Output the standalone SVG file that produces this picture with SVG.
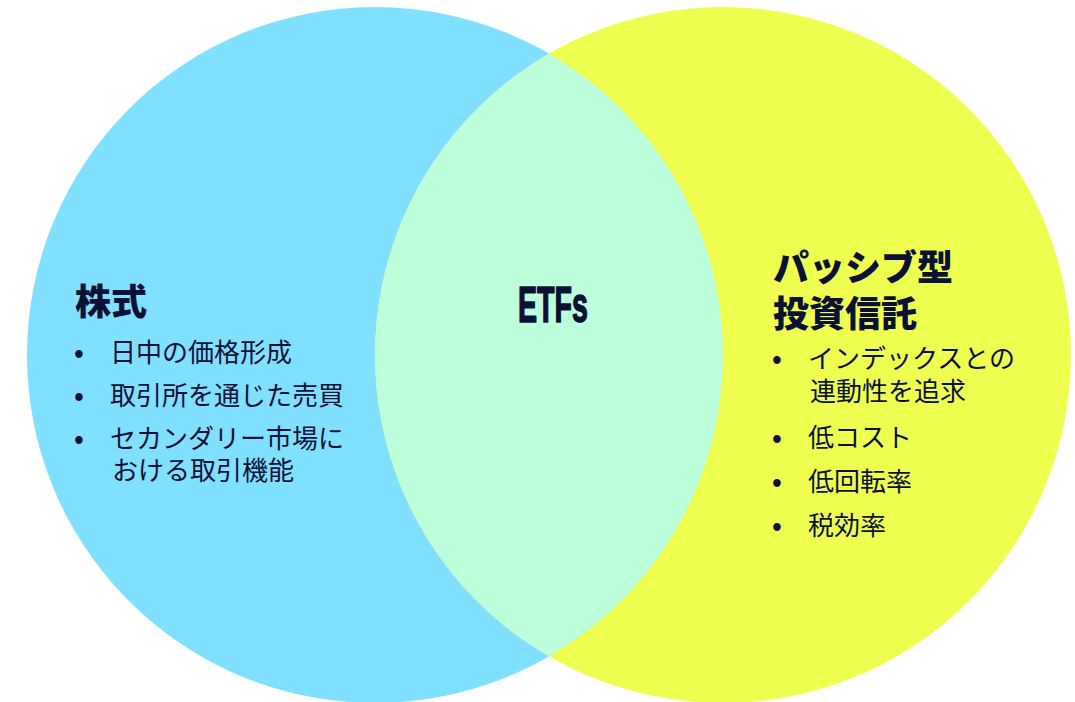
<svg xmlns="http://www.w3.org/2000/svg" width="1075" height="702" viewBox="0 0 1075 702">
<defs>
<style>
.t{font-family:"Noto Sans CJK JP","Noto Sans",sans-serif;fill:#0b1035;}
.h{font-size:36px;font-weight:900;}
.b{font-size:26px;font-weight:400;}
.d{font-size:26px;font-weight:700;}
.etf{font-family:"Liberation Sans","DejaVu Sans",sans-serif;font-weight:700;font-size:50px;fill:#0b1035;stroke:#0b1035;stroke-width:1.6px;stroke-linejoin:round;}
</style>
<clipPath id="cl"><circle cx="375" cy="355" r="348"/></clipPath>
</defs>
<rect width="1075" height="702" fill="#ffffff"/>
<g id="stocks"><circle cx="375" cy="355" r="348" fill="#80e0ff"/></g>
<g id="passive"><circle cx="723" cy="355" r="348" fill="#eeff4f"/></g>
<g id="overlap"><circle cx="723" cy="355" r="348" fill="#bdffdb" clip-path="url(#cl)"/></g>
<g id="connectors"></g>
<g id="stocks-text">
<text x="75" y="315" class="t h">株式</text>
<text x="74" y="362" class="t d">•</text><text x="110" y="362" class="t b">日中の価格形成</text>
<text x="74" y="405" class="t d">•</text><text x="110" y="405" class="t b">取引所を通じた売買</text>
<text x="74" y="448" class="t d">•</text><text x="110" y="448" class="t b">セカンダリー市場に</text>
<text x="112" y="480" class="t b">おける取引機能</text>
</g>
<g id="etfs-text"><text x="518" y="322" textLength="70" lengthAdjust="spacingAndGlyphs" class="etf">ETFs</text></g>
<g id="passive-text">
<text x="773" y="281" class="t h">パッシブ型</text>
<text x="773" y="327" class="t h">投資信託</text>
<text x="772" y="368" class="t d">•</text><text x="808" y="368" class="t b">インデックスとの</text>
<text x="810" y="401" class="t b">連動性を追求</text>
<text x="772" y="447" class="t d">•</text><text x="808" y="447" class="t b">低コスト</text>
<text x="772" y="491" class="t d">•</text><text x="808" y="491" class="t b">低回転率</text>
<text x="772" y="535" class="t d">•</text><text x="808" y="535" class="t b">税効率</text>
</g>
</svg>
